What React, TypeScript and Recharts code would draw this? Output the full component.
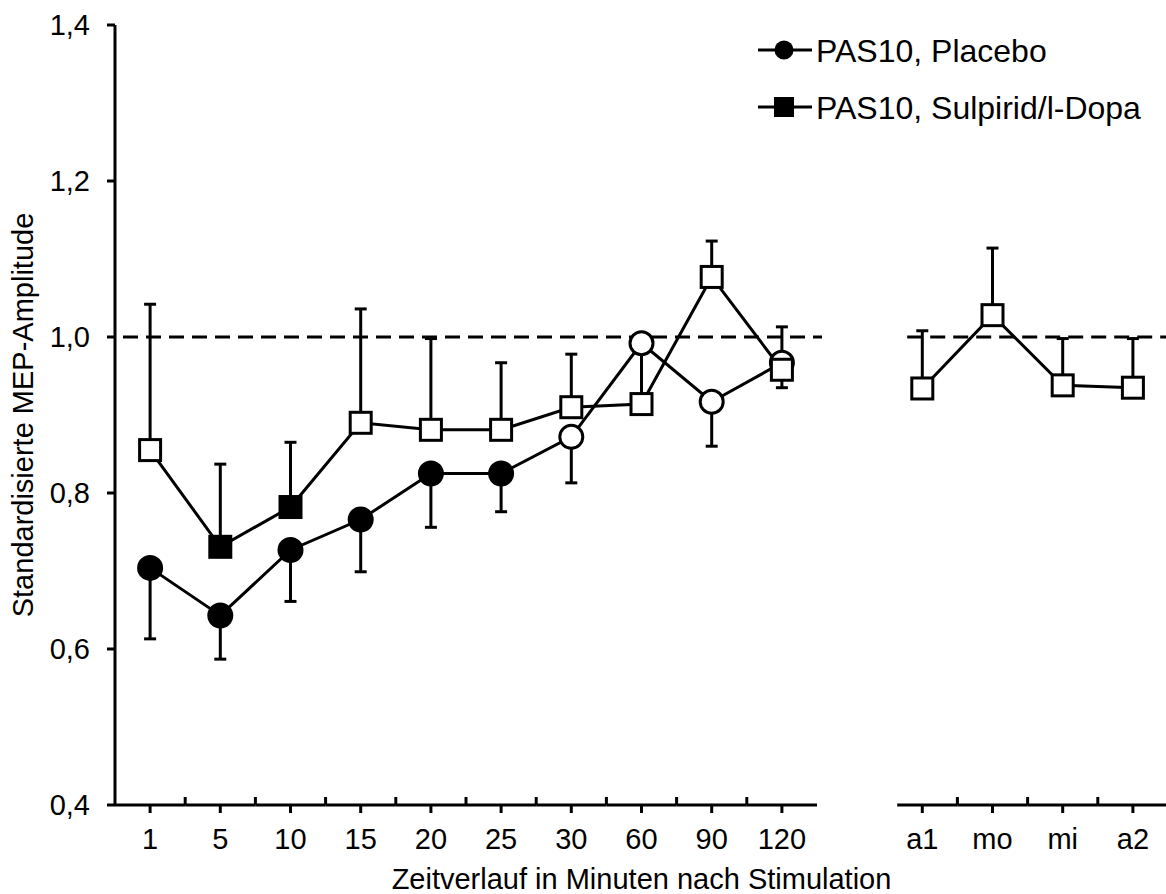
import React from 'react';
import { ComposedChart, Line, XAxis, YAxis, ErrorBar, ReferenceLine, Legend } from 'recharts';

// ---------- data ----------
const timeLabels = ['1', '5', '10', '15', '20', '25', '30', '60', '90', '120'];
const followLabels = ['a1', 'mo', 'mi', 'a2'];
const categories = [...timeLabels, '', ...followLabels];

const seriesNames = ['PAS10, Placebo', 'PAS10, Sulpirid/l-Dopa'];

const placeboMean = [0.704, 0.643, 0.727, 0.766, 0.825, 0.825, 0.872, 0.992, 0.917, 0.967, null, null, null, null, null];
const placeboSem = [0.091, 0.056, 0.066, 0.067, 0.069, 0.049, 0.059, 0.072, 0.057, 0.032, null, null, null, null, null];
const placeboFilled = [true, true, true, true, true, true, false, false, false, false, false, false, false, false, false];

const sulpiridMean = [0.855, 0.731, 0.782, 0.890, 0.881, 0.881, 0.910, 0.914, 1.077, 0.958, null, 0.934, 1.028, 0.938, 0.935];
const sulpiridSem = [0.187, 0.106, 0.083, 0.146, 0.117, 0.086, 0.068, 0.010, 0.046, 0.055, null, 0.074, 0.086, 0.060, 0.063];
const sulpiridFilled = [false, true, true, false, false, false, false, false, false, false, false, false, false, false, false];

const yTicks = [0.4, 0.6, 0.8, 1.0, 1.2, 1.4];
const baselineValue = 1.0;

const yAxisTitle = 'Standardisierte MEP-Amplitude';
const xAxisTitle = 'Zeitverlauf in Minuten nach Stimulation';

// ---------- table for recharts ----------
const data = categories.map((cat, i) => ({
  cat,
  placebo: placeboMean[i],
  placeboErr: placeboSem[i] == null ? undefined : [placeboSem[i], 0],
  sulpirid: sulpiridMean[i],
  sulpiridErr: sulpiridSem[i] == null ? undefined : [0, sulpiridSem[i]],
}));

// ---------- styling ----------
const FONT = '"Liberation Sans", Arial, Helvetica, sans-serif';
const CHART_W = 1170;
const CHART_H = 894;
const MARGIN = { top: 25, right: 2, bottom: 0, left: 0 };
const Y_AXIS_W = 115;
const X_AXIS_H = 89;
const PLOT_W = CHART_W - MARGIN.left - MARGIN.right - Y_AXIS_W;
const HALF_BAND = PLOT_W / categories.length / 2;

const XTick = (props: any) => {
  const { x, y, payload, index } = props;
  const label = categories[index] ?? payload?.value;
  if (label === '' || label == null) return <g />;
  const hb = payload?.offset || HALF_BAND;
  const next = categories[index + 1];
  const prev = categories[index - 1];
  const lastInGroup = next === undefined || next === '';
  const firstAfterGap = prev === '';
  const startX = firstAfterGap ? x - hb + 10 : x - hb;
  return (
    <g>
      <line x1={startX} x2={x + hb} y1={y} y2={y} stroke="#000" strokeWidth={3} />
      <line x1={x} x2={x} y1={y} y2={y + 8} stroke="#000" strokeWidth={3} />
      {!lastInGroup && <line x1={x + hb} x2={x + hb} y1={y - 8} y2={y} stroke="#000" strokeWidth={3} />}
      <text x={x} y={y + 44} textAnchor="middle" fontSize={29} fontFamily={FONT} fill="#000">
        {label}
      </text>
    </g>
  );
};

const makeDot = (key: 'placebo' | 'sulpirid', filled: boolean[], kind: 'circle' | 'square') => (props: any) => {
  const { cx, cy, index, payload } = props;
  if (cx == null || cy == null || payload == null || payload[key] == null) return <g key={`${key}-${index}`} />;
  const fill = filled[index] ? '#000' : '#fff';
  if (kind === 'circle') {
    return <circle key={`${key}-${index}`} cx={cx} cy={cy} r={11.5} fill={fill} stroke="#000" strokeWidth={3} />;
  }
  const s = 21;
  return (
    <rect key={`${key}-${index}`} x={cx - s / 2} y={cy - s / 2} width={s} height={s} fill={fill} stroke="#000" strokeWidth={3} />
  );
};

const BrokenDashed = (props: any) => {
  const { x1, x2, y1, y2 } = props;
  const band = (x2 - x1) / categories.length;
  const gapIdx = categories.indexOf('');
  const leftEnd = x1 + gapIdx * band;
  const rightStart = x1 + (gapIdx + 1) * band + 20;
  return (
    <g>
      <line x1={x1 + 8} x2={leftEnd + 5} y1={y1} y2={y2} stroke="#000" strokeWidth={3} strokeDasharray="15 8" />
      <line x1={rightStart} x2={x2} y1={y1} y2={y2} stroke="#000" strokeWidth={3} strokeDasharray="15 8" />
    </g>
  );
};

const LegendContent = () => (
  <svg width={420} height={112} style={{ display: 'block' }}>
    <g>
      <line x1={8} x2={62} y1={28} y2={28} stroke="#000" strokeWidth={3} />
      <circle cx={34} cy={28} r={9.5} fill="#000" />
      <text x={66} y={28} dy="0.36em" fontSize={32} fontFamily={FONT} fill="#000">
        {seriesNames[0]}
      </text>
    </g>
    <g>
      <line x1={8} x2={62} y1={85} y2={85} stroke="#000" strokeWidth={3} />
      <rect x={24} y={75} width={20} height={20} fill="#000" />
      <text x={66} y={85} dy="0.36em" fontSize={32} fontFamily={FONT} fill="#000">
        {seriesNames[1]}
      </text>
    </g>
  </svg>
);

const YTitle = (props: any) => {
  const vb = props.viewBox || { x: 0, y: MARGIN.top, width: Y_AXIS_W, height: 780 };
  const cx = vb.x + 33;
  const cy = vb.y + vb.height / 2;
  return (
    <text x={cx} y={cy} textAnchor="middle" fontSize={29} fontFamily={FONT} fill="#000" transform={`rotate(-90, ${cx}, ${cy})`}>
      {yAxisTitle}
    </text>
  );
};

const XTitle = (props: any) => {
  const vb = props.viewBox || { x: Y_AXIS_W, y: CHART_H - X_AXIS_H, width: PLOT_W, height: X_AXIS_H };
  return (
    <text x={vb.x + vb.width / 2} y={vb.y + 84} textAnchor="middle" fontSize={29} fontFamily={FONT} fill="#000">
      {xAxisTitle}
    </text>
  );
};

export default function App() {
  return (
    <div style={{ position: 'absolute', left: 0, top: 0, width: 1166, height: 894, overflow: 'hidden', background: '#fff' }}>
      <ComposedChart width={CHART_W} height={CHART_H} data={data} margin={MARGIN}>
        <XAxis
          dataKey="cat"
          type="category"
          scale="band"
          interval={0}
          axisLine={false}
          tickLine={false}
          tickSize={0}
          tickMargin={0}
          height={X_AXIS_H}
          tick={<XTick />}
          label={<XTitle />}
        />
        <YAxis
          type="number"
          domain={[0.4, 1.4]}
          ticks={yTicks}
          width={Y_AXIS_W}
          axisLine={{ stroke: '#000', strokeWidth: 3 }}
          tickLine={{ stroke: '#000', strokeWidth: 3 }}
          tickSize={8}
          tickMargin={17}
          tick={{ fill: '#000', fontSize: 29, fontFamily: FONT }}
          tickFormatter={(v: number) => v.toFixed(1).replace('.', ',')}
          label={<YTitle />}
        />
        <ReferenceLine y={baselineValue} shape={<BrokenDashed />} ifOverflow="extendDomain" />
        <Legend
          layout="vertical"
          align="center"
          verticalAlign="middle"
          content={<LegendContent />}
          wrapperStyle={{ left: 750, top: 22, width: 420, height: 112 }}
        />
        <Line
          dataKey="placebo"
          name={seriesNames[0]}
          type="linear"
          stroke="#000"
          strokeWidth={3}
          connectNulls={false}
          isAnimationActive={false}
          activeDot={false}
          dot={makeDot('placebo', placeboFilled, 'circle')}
        >
          <ErrorBar dataKey="placeboErr" width={6} stroke="#000" strokeWidth={3} direction="y" isAnimationActive={false} />
        </Line>
        <Line
          dataKey="sulpirid"
          name={seriesNames[1]}
          type="linear"
          stroke="#000"
          strokeWidth={3}
          connectNulls={false}
          isAnimationActive={false}
          activeDot={false}
          dot={makeDot('sulpirid', sulpiridFilled, 'square')}
        >
          <ErrorBar dataKey="sulpiridErr" width={6} stroke="#000" strokeWidth={3} direction="y" isAnimationActive={false} />
        </Line>
      </ComposedChart>
    </div>
  );
}
